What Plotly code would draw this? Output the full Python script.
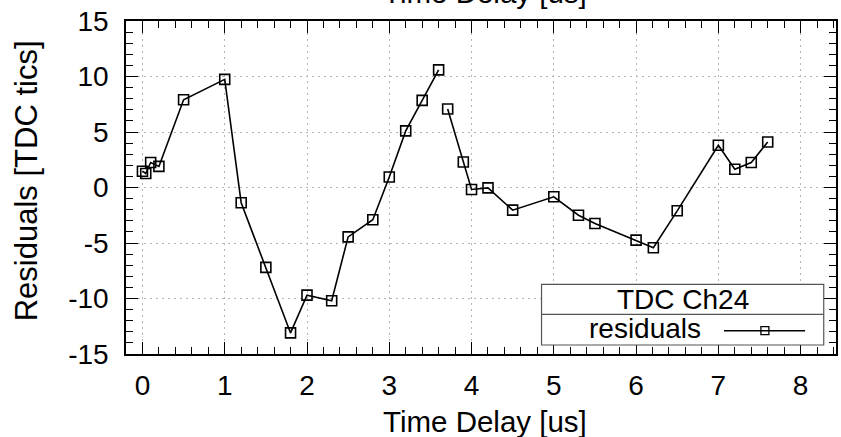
import plotly.graph_objects as go

# Data (two connected segments; gap between 3.6 and 3.71)
x_seg1 = [0.0, 0.04, 0.1, 0.2, 0.5, 1.0, 1.2, 1.5, 1.8, 2.0, 2.3, 2.5, 2.8, 3.0, 3.2, 3.4, 3.6]
y_seg1 = [1.47, 1.26, 2.25, 1.9, 7.9, 9.74, -1.38, -7.2, -13.1, -9.7, -10.2, -4.45, -2.9, 0.95, 5.1, 7.85, 10.6]
x_seg2 = [3.71, 3.9, 4.0, 4.2, 4.5, 5.0, 5.3, 5.5, 6.0, 6.21, 6.5, 7.0, 7.2, 7.4, 7.6]
y_seg2 = [7.07, 2.3, -0.18, -0.03, -2.04, -0.84, -2.5, -3.24, -4.74, -5.43, -2.1, 3.8, 1.65, 2.25, 4.1]

x_ticks = [0, 1, 2, 3, 4, 5, 6, 7, 8]
y_ticks = [-15, -10, -5, 0, 5, 10, 15]
legend_title = "TDC Ch24"
series_name = "residuals"

FONT = "Liberation Sans, Arial, Helvetica, sans-serif"
FS = 28

fig = go.Figure()
for xs, ys in [(x_seg1, y_seg1), (x_seg2, y_seg2)]:
    fig.add_trace(go.Scatter(
        x=xs, y=ys, mode="lines+markers", name=series_name, showlegend=False,
        line=dict(color="black", width=1.6),
        marker=dict(symbol="square-open", size=10, color="black", line=dict(width=1.6)),
    ))

L, R, T, B = 126, 3, 21, 83
W, H = 841, 437
pw = W - L - R
ph = H - T - B

axis_common = dict(
    showline=True, linecolor="black", linewidth=1.5, mirror="allticks",
    ticks="inside", ticklen=12, tickwidth=1.2, tickcolor="black",
    showgrid=True, gridcolor="#b4b4b4", griddash="2px,4px", gridwidth=1,
    zeroline=False,
    tickfont=dict(family=FONT, size=FS, color="black"),
)

fig.update_xaxes(range=[-0.2, 8.43], tickvals=x_ticks, ticktext=[str(v) for v in x_ticks],
                 ticklabelstandoff=6,
                 minor=dict(ticks="inside", ticklen=7, dtick=0.2, tick0=0, tickcolor="black", tickwidth=1.2, showgrid=False),
                 **axis_common)
fig.update_yaxes(range=[-15, 15], tickvals=y_ticks, ticktext=[str(v) for v in y_ticks],
                 ticklabelstandoff=10,
                 minor=dict(ticks="inside", ticklen=7, dtick=1, tick0=0, tickcolor="black", tickwidth=1.2, showgrid=False),
                 **axis_common)

def px2x(px):
    return (px - L) / pw

def py2y(py):
    return (H - B - py) / ph

shapes = []
# legend box
shapes.append(dict(type="rect", xref="paper", yref="paper",
                   x0=px2x(542.7), x1=px2x(825.7), y0=py2y(345), y1=py2y(284.3),
                   line=dict(color="#555555", width=1.2), fillcolor="white", layer="above"))
shapes.append(dict(type="line", xref="paper", yref="paper",
                   x0=px2x(542.7), x1=px2x(825.7), y0=py2y(314.3), y1=py2y(314.3),
                   line=dict(color="#555555", width=1.2), layer="above"))
# legend sample line + marker
shapes.append(dict(type="line", xref="paper", yref="paper",
                   x0=px2x(725.7), x1=px2x(807), y0=py2y(330.7), y1=py2y(330.7),
                   line=dict(color="black", width=1.5), layer="above"))
shapes.append(dict(type="rect", xref="paper", yref="paper",
                   x0=px2x(762.7), x1=px2x(770.7), y0=py2y(334.7), y1=py2y(326.7),
                   line=dict(color="black", width=1.3), fillcolor="rgba(0,0,0,0)", layer="above"))

annotations = [
    dict(text=legend_title, xref="paper", yref="paper", x=px2x(684.2), y=py2y(299.5),
         xanchor="center", yanchor="middle", showarrow=False,
         font=dict(family=FONT, size=FS, color="black")),
    dict(text=series_name, xref="paper", yref="paper", x=px2x(705), y=py2y(328),
         xanchor="right", yanchor="middle", showarrow=False,
         font=dict(family=FONT, size=FS, color="black")),
    # bottom x title
    dict(text="Time Delay [us]", xref="paper", yref="paper", x=px2x(486), y=py2y(440),
         xanchor="center", yanchor="bottom", showarrow=False,
         font=dict(family=FONT, size=29.5, color="black")),
    # top title, cut off by the top edge as in the reference
    dict(text="Time Delay [us]", xref="paper", yref="paper", x=px2x(486), y=py2y(11),
         xanchor="center", yanchor="bottom", showarrow=False,
         font=dict(family=FONT, size=29.5, color="black")),
    # y title
    dict(text="Residuals [TDC tics]", xref="paper", yref="paper", x=px2x(26), y=py2y(181),
         xanchor="center", yanchor="middle", textangle=-90, showarrow=False,
         font=dict(family=FONT, size=31, color="black")),
]

fig.update_layout(
    width=W, height=H,
    margin=dict(l=L, r=R, t=T, b=B, pad=0),
    paper_bgcolor="white", plot_bgcolor="white",
    shapes=shapes, annotations=annotations,
    showlegend=False,
)

fig.write_html("out.html")
